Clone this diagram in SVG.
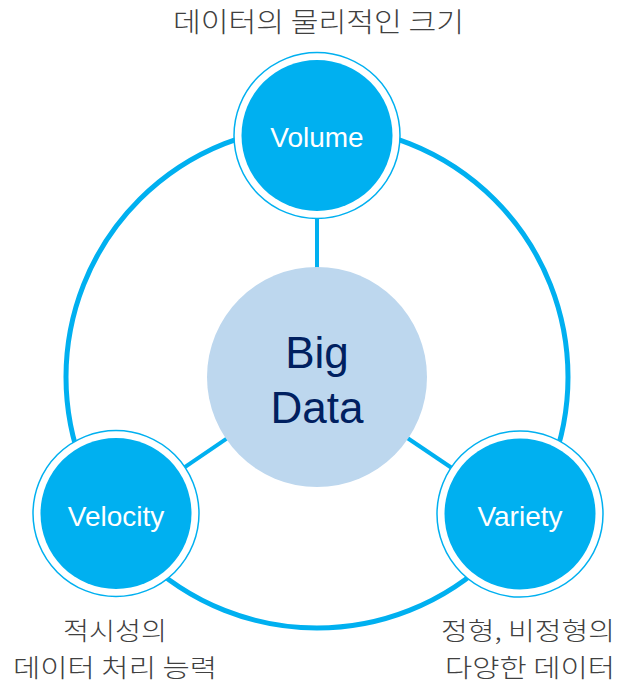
<svg xmlns="http://www.w3.org/2000/svg" width="617" height="684" viewBox="0 0 617 684">
<style>
.ring{fill:none;stroke:#00B0F0;stroke-width:5}
.spoke{stroke:#00B0F0;stroke-width:4}
.halo{fill:#FFFFFF;stroke:#00B0F0;stroke-width:1.5}
.core{fill:#00B0F0}
.lbl{font-family:"Liberation Sans",Arial,sans-serif;font-size:28px;fill:#FFFFFF;text-anchor:middle}
.big{font-family:"Liberation Sans",Arial,sans-serif;font-size:44px;fill:#002060;text-anchor:middle}
.kr{font-family:"Noto Sans CJK KR",sans-serif;font-weight:300;font-size:27px;fill:#404040;text-anchor:middle}
.kr2{font-size:25px}
</style>
<rect width="617" height="684" fill="#FFFFFF"/>
<g id="connectors">
<circle class="ring" cx="317" cy="377" r="251"/>
<line class="spoke" x1="317" y1="377" x2="317" y2="135"/>
<line class="spoke" x1="317" y1="377" x2="116" y2="514"/>
<line class="spoke" x1="317" y1="377" x2="520" y2="514"/>
</g>
<g id="center">
<circle cx="317" cy="377" r="110" fill="#BDD7EE"/>
<text class="big" x="317" y="368">Big</text>
<text class="big" x="317" y="423">Data</text>
</g>
<g id="volume">
<circle class="halo" cx="317" cy="135.5" r="83"/>
<circle class="core" cx="317" cy="135.5" r="75.5"/>
<text class="lbl" x="317" y="147">Volume</text>
</g>
<g id="velocity">
<circle class="halo" cx="116" cy="513.5" r="83"/>
<circle class="core" cx="116" cy="513.5" r="75.5"/>
<text class="lbl" x="116" y="526">Velocity</text>
</g>
<g id="variety">
<circle class="halo" cx="520" cy="514" r="83"/>
<circle class="core" cx="520" cy="514" r="75.5"/>
<text class="lbl" x="520" y="526">Variety</text>
</g>
<g id="labels">
<text class="kr" x="318.5" y="32" textLength="291" lengthAdjust="spacingAndGlyphs">데이터의 물리적인 크기</text>
<text class="kr kr2" x="115" y="640" textLength="104" lengthAdjust="spacingAndGlyphs">적시성의</text>
<text class="kr kr2" x="115" y="677" textLength="204" lengthAdjust="spacingAndGlyphs">데이터 처리 능력</text>
<text class="kr kr2" x="528" y="640" textLength="174" lengthAdjust="spacingAndGlyphs">정형, 비정형의</text>
<text class="kr kr2" x="530" y="677" textLength="170" lengthAdjust="spacingAndGlyphs">다양한 데이터</text>
</g>
</svg>
